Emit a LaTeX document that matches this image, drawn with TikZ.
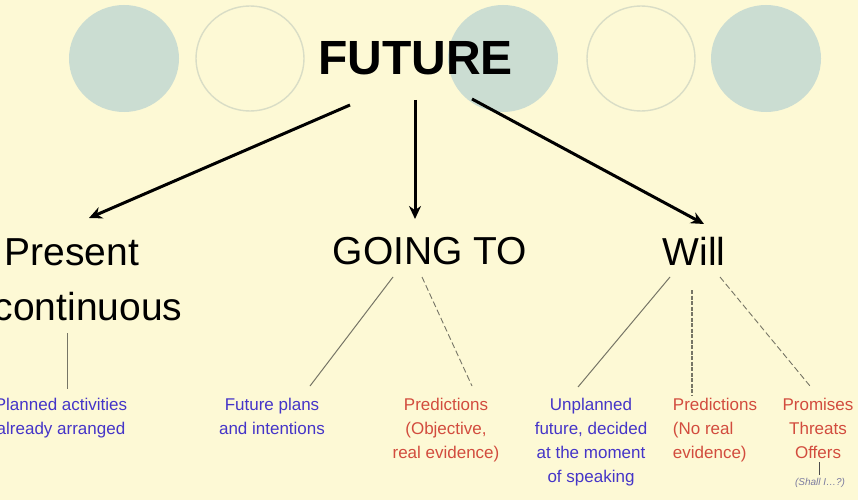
\documentclass[tikz,border=0pt]{standalone}
\usepackage{fontspec}
\setmainfont{Liberation Sans}
\usetikzlibrary{arrows.meta}
\definecolor{bg}{HTML}{FDF9D5}
\definecolor{disc}{HTML}{CBDDD2}
\definecolor{ring}{HTML}{D9DDC6}
\definecolor{tblue}{HTML}{4535C8}
\definecolor{tred}{HTML}{D24C3E}
\definecolor{lgray}{HTML}{767566}
\definecolor{sgray}{HTML}{7C7CA0}
\tikzset{
  fdisc/.style={fill=disc, draw=none},
  oring/.style={draw=ring, line width=1.4pt},
  bigtxt/.style={font=\fontsize{39}{44}\selectfont, inner sep=0pt, anchor=base},
  small/.style={font=\fontsize{17}{24}\selectfont, inner sep=0pt, anchor=north, align=center},
  bluetxt/.style={small, text=tblue},
  redtxt/.style={small, text=tred},
  mainarrow/.style={line width=3pt, -{Stealth[length=13pt,width=12pt]}},
  thin/.style={draw=lgray, line width=1pt},
  thindash/.style={draw=lgray, line width=0.9pt, dash pattern=on 6pt off 3pt},
  dbldash/.style={draw=lgray, line width=1.8pt, dash pattern=on 4pt off 1.5pt},
}
\begin{document}
\begin{tikzpicture}[x=1pt,y=-1pt]
\fill[bg] (0,0) rectangle (858,500);
\useasboundingbox (0,0) rectangle (858,500);
\clip (0,0) rectangle (858,500);
% decorative circles
\fill[fdisc] (124,58.5) ellipse [x radius=55, y radius=53.5];
\draw[oring] (250,58.5) ellipse [x radius=54, y radius=52.5];
\fill[fdisc] (503,58.5) ellipse [x radius=55, y radius=53.5];
\draw[oring] (641,58.5) ellipse [x radius=54, y radius=52.5];
\fill[fdisc] (766,58.5) ellipse [x radius=55, y radius=53.5];
% title
\node[font=\fontsize{48}{52}\selectfont\bfseries, inner sep=0pt, anchor=base] (future) at (415.5,75) {FUTURE};
% main branches
\node[bigtxt] (present) at (72,265) {Present};
\node[bigtxt] (continuous) at (88,320) {continuous};
\node[bigtxt] (goingto) at (430,264) {GOING TO};
\node[bigtxt] (will) at (694,265) {Will};
% arrow endpoints
\coordinate (fl) at (350,105);
\coordinate (fm) at (415,100);
\coordinate (fr) at (472,99);
\coordinate (tl) at (89,218);
\coordinate (tm) at (415,219);
\coordinate (tr) at (704,224);
\draw[mainarrow] (fl) -- (tl);
\draw[mainarrow] (fm) -- (tm);
\draw[mainarrow] (fr) -- (tr);
% leaves
\node[bluetxt] (planned) at (61,397.6) {Planned activities\\already arranged};
\node[bluetxt] (plans) at (272,397.6) {Future plans\\and intentions};
\node[redtxt] (predgo) at (446,397.6) {Predictions\\(Objective,\\real evidence)};
\node[bluetxt] (unplanned) at (591,397.6) {Unplanned\\future, decided\\at the moment\\of speaking};
\node[redtxt, align=left] (predwill) at (715,397.6) {Predictions\\(No real\\evidence)};
\node[redtxt] (promises) at (818,397.6) {Promises\\Threats\\Offers};
\node[font=\fontsize{10}{12}\selectfont\itshape, text=sgray, inner sep=0pt, anchor=base] (shall) at (820,485) {(Shall I\dots?)};
% thin connectors
\coordinate (c1) at (67,333);
\coordinate (c2) at (67,389);
\draw[thin] (c1) -- (c2);
\coordinate (g1) at (393,277);
\coordinate (g2) at (310,386);
\draw[thin] (g1) -- (g2);
\coordinate (g3) at (422,277);
\coordinate (g4) at (472,386);
\draw[thindash] (g3) -- (g4);
\coordinate (w1) at (670,277);
\coordinate (w2) at (578,387);
\draw[thin] (w1) -- (w2);
\coordinate (w3) at (692,290);
\coordinate (w4) at (692,396);
\draw[dbldash] (w3) -- (w4);
\coordinate (w5) at (720,277);
\coordinate (w6) at (810,386);
\draw[thindash] (w5) -- (w6);
\coordinate (o1) at (819,462);
\coordinate (o2) at (819,475);
\draw[draw=black!70, line width=0.9pt] (o1) -- (o2);
\end{tikzpicture}
\end{document}
